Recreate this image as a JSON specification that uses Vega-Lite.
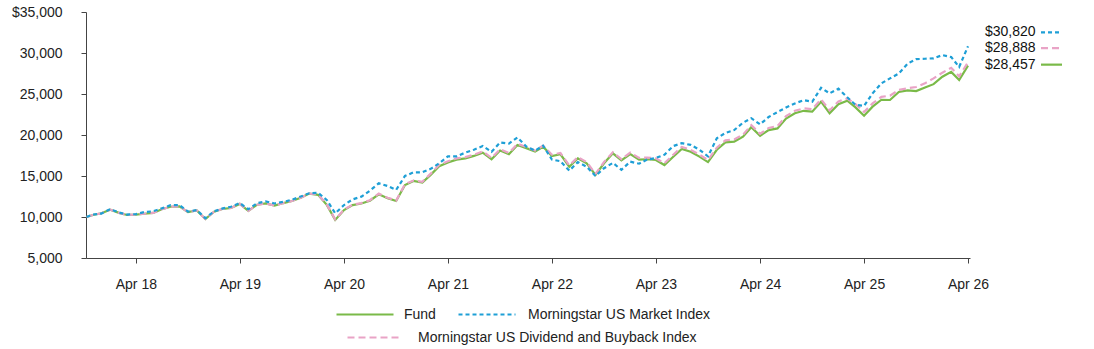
{
  "$schema": "https://vega.github.io/schema/vega-lite/v6.json",
  "width": 884,
  "height": 246,
  "autosize": {"type": "none"},
  "padding": {"left": 86, "top": 12, "right": 124, "bottom": 91},
  "background": "white",
  "config": {
    "font": "Liberation Sans",
    "view": {"stroke": null},
    "axis": {"grid": false, "domainColor": "#444", "tickColor": "#444", "labelColor": "#222", "labelFontSize": 14, "labelFont": "Liberation Sans", "title": null},
    "legend": {"labelLimit": 0, "labelFontSize": 14, "labelFont": "Liberation Sans", "labelColor": "#222", "title": null, "orient": "none", "symbolType": "stroke", "symbolStrokeWidth": 2.2, "clipHeight": 17, "direction": "horizontal"}
  },
  "datasets": {
    "growth": [
      {"date": "2017-10-10", "fund": 10000, "dividend": 10000, "market": 10000},
      {"date": "2017-11-01", "fund": 10250, "dividend": 10250, "market": 10300},
      {"date": "2017-12-01", "fund": 10450, "dividend": 10450, "market": 10420},
      {"date": "2018-01-01", "fund": 10900, "dividend": 10900, "market": 10950},
      {"date": "2018-02-01", "fund": 10500, "dividend": 10500, "market": 10550},
      {"date": "2018-03-01", "fund": 10250, "dividend": 10250, "market": 10300},
      {"date": "2018-04-01", "fund": 10300, "dividend": 10300, "market": 10350},
      {"date": "2018-05-01", "fund": 10400, "dividend": 10400, "market": 10600},
      {"date": "2018-06-01", "fund": 10500, "dividend": 10500, "market": 10700},
      {"date": "2018-07-01", "fund": 10950, "dividend": 10950, "market": 11050},
      {"date": "2018-08-01", "fund": 11250, "dividend": 11250, "market": 11450},
      {"date": "2018-09-01", "fund": 11300, "dividend": 11300, "market": 11450},
      {"date": "2018-10-01", "fund": 10600, "dividend": 10600, "market": 10650},
      {"date": "2018-11-01", "fund": 10800, "dividend": 10800, "market": 10850},
      {"date": "2018-12-01", "fund": 9750, "dividend": 9750, "market": 9850},
      {"date": "2019-01-01", "fund": 10650, "dividend": 10650, "market": 10700},
      {"date": "2019-02-01", "fund": 11000, "dividend": 11000, "market": 11050},
      {"date": "2019-03-01", "fund": 11100, "dividend": 11100, "market": 11250},
      {"date": "2019-04-01", "fund": 11600, "dividend": 11600, "market": 11700},
      {"date": "2019-05-01", "fund": 10750, "dividend": 10750, "market": 10950},
      {"date": "2019-06-01", "fund": 11500, "dividend": 11500, "market": 11700},
      {"date": "2019-07-01", "fund": 11650, "dividend": 11650, "market": 11900},
      {"date": "2019-08-01", "fund": 11400, "dividend": 11400, "market": 11650},
      {"date": "2019-09-01", "fund": 11700, "dividend": 11700, "market": 11850},
      {"date": "2019-10-01", "fund": 11950, "dividend": 11950, "market": 12100},
      {"date": "2019-11-01", "fund": 12350, "dividend": 12350, "market": 12500},
      {"date": "2019-12-01", "fund": 12850, "dividend": 12850, "market": 12900},
      {"date": "2020-01-01", "fund": 12700, "dividend": 12750, "market": 12950},
      {"date": "2020-02-01", "fund": 11450, "dividend": 11500, "market": 12050},
      {"date": "2020-03-01", "fund": 9650, "dividend": 9700, "market": 10450},
      {"date": "2020-04-01", "fund": 10850, "dividend": 10900, "market": 11460},
      {"date": "2020-05-01", "fund": 11450, "dividend": 11500, "market": 12150},
      {"date": "2020-06-01", "fund": 11650, "dividend": 11700, "market": 12480},
      {"date": "2020-07-01", "fund": 11990, "dividend": 12050, "market": 13210},
      {"date": "2020-08-01", "fund": 12770, "dividend": 12850, "market": 14110},
      {"date": "2020-09-01", "fund": 12300, "dividend": 12350, "market": 13780},
      {"date": "2020-10-01", "fund": 11950, "dividend": 12000, "market": 13300},
      {"date": "2020-11-01", "fund": 13900, "dividend": 14000, "market": 15000},
      {"date": "2020-12-01", "fund": 14390, "dividend": 14450, "market": 15450},
      {"date": "2021-01-01", "fund": 14200, "dividend": 14300, "market": 15450},
      {"date": "2021-02-01", "fund": 15200, "dividend": 15350, "market": 15900},
      {"date": "2021-03-01", "fund": 16200, "dividend": 16350, "market": 16550},
      {"date": "2021-04-01", "fund": 16650, "dividend": 16800, "market": 17400},
      {"date": "2021-05-01", "fund": 17000, "dividend": 17150, "market": 17400},
      {"date": "2021-06-01", "fund": 17150, "dividend": 17300, "market": 17850},
      {"date": "2021-07-01", "fund": 17450, "dividend": 17600, "market": 18200},
      {"date": "2021-08-01", "fund": 17850, "dividend": 18000, "market": 18650},
      {"date": "2021-09-01", "fund": 17050, "dividend": 17200, "market": 17950},
      {"date": "2021-10-01", "fund": 18100, "dividend": 18250, "market": 19100},
      {"date": "2021-11-01", "fund": 17650, "dividend": 17800, "market": 18950},
      {"date": "2021-12-01", "fund": 18780, "dividend": 18930, "market": 19700},
      {"date": "2022-01-01", "fund": 18400, "dividend": 18550, "market": 18600},
      {"date": "2022-02-01", "fund": 17970, "dividend": 18100, "market": 18100},
      {"date": "2022-03-01", "fund": 18570, "dividend": 18700, "market": 18700},
      {"date": "2022-04-01", "fund": 17440, "dividend": 17600, "market": 17000},
      {"date": "2022-05-01", "fund": 17650, "dividend": 17800, "market": 16800},
      {"date": "2022-06-01", "fund": 16130, "dividend": 16300, "market": 15650},
      {"date": "2022-07-01", "fund": 17160, "dividend": 17300, "market": 16700},
      {"date": "2022-08-01", "fund": 16550, "dividend": 16700, "market": 16130},
      {"date": "2022-09-01", "fund": 15120, "dividend": 15250, "market": 15000},
      {"date": "2022-10-01", "fund": 16550, "dividend": 16700, "market": 15950},
      {"date": "2022-11-01", "fund": 17770, "dividend": 17900, "market": 16600},
      {"date": "2022-12-01", "fund": 16900, "dividend": 17050, "market": 15750},
      {"date": "2023-01-01", "fund": 17680, "dividend": 17850, "market": 16750},
      {"date": "2023-02-01", "fund": 17000, "dividend": 17200, "market": 16500},
      {"date": "2023-03-01", "fund": 17040, "dividend": 17250, "market": 17000},
      {"date": "2023-04-01", "fund": 16950, "dividend": 17150, "market": 17200},
      {"date": "2023-05-01", "fund": 16340, "dividend": 16550, "market": 17600},
      {"date": "2023-06-01", "fund": 17350, "dividend": 17600, "market": 18650},
      {"date": "2023-07-01", "fund": 18300, "dividend": 18550, "market": 19000},
      {"date": "2023-08-01", "fund": 17950, "dividend": 18200, "market": 18800},
      {"date": "2023-09-01", "fund": 17360, "dividend": 17600, "market": 18200},
      {"date": "2023-10-01", "fund": 16700, "dividend": 16950, "market": 17400},
      {"date": "2023-11-01", "fund": 18200, "dividend": 18450, "market": 19600},
      {"date": "2023-12-01", "fund": 19100, "dividend": 19350, "market": 20250},
      {"date": "2024-01-01", "fund": 19200, "dividend": 19450, "market": 20600},
      {"date": "2024-02-01", "fund": 19800, "dividend": 20050, "market": 21500},
      {"date": "2024-03-01", "fund": 20950, "dividend": 21200, "market": 22050},
      {"date": "2024-04-01", "fund": 19900, "dividend": 20150, "market": 21300},
      {"date": "2024-05-01", "fund": 20600, "dividend": 20850, "market": 22200},
      {"date": "2024-06-01", "fund": 20800, "dividend": 21100, "market": 22800},
      {"date": "2024-07-01", "fund": 22000, "dividend": 22300, "market": 23350},
      {"date": "2024-08-01", "fund": 22650, "dividend": 22950, "market": 23850},
      {"date": "2024-09-01", "fund": 22950, "dividend": 23250, "market": 24250},
      {"date": "2024-10-01", "fund": 22850, "dividend": 23150, "market": 24050},
      {"date": "2024-11-01", "fund": 24060, "dividend": 24350, "market": 25750},
      {"date": "2024-12-01", "fund": 22650, "dividend": 23000, "market": 25080},
      {"date": "2025-01-01", "fund": 23760, "dividend": 24100, "market": 25650},
      {"date": "2025-02-01", "fund": 24190, "dividend": 24450, "market": 24600},
      {"date": "2025-03-01", "fund": 23400, "dividend": 23800, "market": 23700},
      {"date": "2025-04-01", "fund": 22350, "dividend": 22800, "market": 23550},
      {"date": "2025-05-01", "fund": 23460, "dividend": 23850, "market": 25080},
      {"date": "2025-06-01", "fund": 24300, "dividend": 24650, "market": 26300},
      {"date": "2025-07-01", "fund": 24270, "dividend": 24800, "market": 26900},
      {"date": "2025-08-01", "fund": 25250, "dividend": 25500, "market": 27500},
      {"date": "2025-09-01", "fund": 25450, "dividend": 25700, "market": 28700},
      {"date": "2025-10-01", "fund": 25350, "dividend": 25850, "market": 29250},
      {"date": "2025-11-01", "fund": 25800, "dividend": 26300, "market": 29300},
      {"date": "2025-12-01", "fund": 26200, "dividend": 26900, "market": 29350},
      {"date": "2026-01-01", "fund": 27100, "dividend": 27600, "market": 29750},
      {"date": "2026-02-01", "fund": 27700, "dividend": 28200, "market": 29500},
      {"date": "2026-03-01", "fund": 26700, "dividend": 27150, "market": 28300},
      {"date": "2026-04-01", "fund": 28457, "dividend": 28888, "market": 30820}
    ]
  },
  "data": {"name": "growth"},
  "transform": [{"fold": ["fund", "dividend", "market"], "as": ["series", "value"]}],
  "encoding": {
    "x": {
      "field": "date", "type": "temporal",
      "scale": {"domain": [{"year": 2017, "month": 10, "date": 8}, {"year": 2026, "month": 4, "date": 8}]},
      "axis": {
        "values": [
          {"year": 2018, "month": 4, "date": 1}, {"year": 2019, "month": 4, "date": 1},
          {"year": 2020, "month": 4, "date": 1}, {"year": 2021, "month": 4, "date": 1},
          {"year": 2022, "month": 4, "date": 1}, {"year": 2023, "month": 4, "date": 1},
          {"year": 2024, "month": 4, "date": 1}, {"year": 2025, "month": 4, "date": 1},
          {"year": 2026, "month": 4, "date": 1}
        ],
        "format": "%b %y", "tickSize": 5, "labelPadding": 14, "labelFlush": false, "labelOverlap": false
      }
    },
    "y": {
      "field": "value", "type": "quantitative",
      "scale": {"domain": [5000, 35000], "nice": false, "zero": false},
      "axis": {
        "values": [5000, 10000, 15000, 20000, 25000, 30000, 35000],
        "labelExpr": "datum.value == 35000 ? '$35,000' : format(datum.value, ',')",
        "tickSize": 5, "labelPadding": 19
      }
    }
  },
  "layer": [
    {
      "transform": [{"filter": "datum.series == 'fund'"}],
      "mark": {"type": "line", "strokeWidth": 2.2},
      "encoding": {
        "color": {
          "field": "series", "type": "nominal",
          "scale": {"domain": ["fund"], "range": ["#7aba48"]},
          "legend": {"legendX": 249, "legendY": 294, "symbolSize": 3249, "labelOffset": 9, "labelExpr": "'Fund'"}
        }
      }
    },
    {
      "transform": [{"filter": "datum.series == 'dividend'"}],
      "mark": {"type": "line", "strokeWidth": 2.2, "strokeDash": [7, 4]},
      "encoding": {
        "color": {
          "field": "series", "type": "nominal",
          "scale": {"domain": ["dividend"], "range": ["#e9a3c6"]},
          "legend": {"legendX": 260, "legendY": 317, "symbolSize": 2704, "symbolDash": [7, 4], "labelOffset": 17, "labelExpr": "'Morningstar US Dividend and Buyback Index'"}
        }
      }
    },
    {
      "transform": [{"filter": "datum.series == 'market'"}],
      "mark": {"type": "line", "strokeWidth": 2.2, "strokeDash": [4, 3]},
      "encoding": {
        "color": {
          "field": "series", "type": "nominal",
          "scale": {"domain": ["market"], "range": ["#1e9fd6"]},
          "legend": {"legendX": 371, "legendY": 294, "symbolSize": 3249, "symbolDash": [4, 3], "labelOffset": 11, "labelExpr": "'Morningstar US Market Index'"}
        }
      }
    },
    {
      "transform": [{"filter": "datum.series == 'market' && time(datum.date) > time(datetime(2026, 2, 15))"}],
      "mark": {"type": "text", "align": "left", "baseline": "middle", "dx": 17, "dy": -14, "fontSize": 14, "font": "Liberation Sans", "color": "#111"},
      "encoding": {"text": {"field": "value", "type": "quantitative", "format": "$,.0f"}}
    },
    {
      "transform": [{"filter": "datum.series == 'dividend' && time(datum.date) > time(datetime(2026, 2, 15))"}],
      "mark": {"type": "text", "align": "left", "baseline": "middle", "dx": 17, "dy": -14, "fontSize": 14, "font": "Liberation Sans", "color": "#111"},
      "encoding": {"text": {"field": "value", "type": "quantitative", "format": "$,.0f"}}
    },
    {
      "transform": [{"filter": "datum.series == 'fund' && time(datum.date) > time(datetime(2026, 2, 15))"}],
      "mark": {"type": "text", "align": "left", "baseline": "middle", "dx": 17, "dy": -1, "fontSize": 14, "font": "Liberation Sans", "color": "#111"},
      "encoding": {"text": {"field": "value", "type": "quantitative", "format": "$,.0f"}}
    },
    {
      "transform": [{"filter": "datum.series == 'market' && time(datum.date) > time(datetime(2026, 2, 15))"}],
      "mark": {"type": "rule", "xOffset": 73, "x2Offset": 94, "yOffset": -14, "strokeWidth": 2.2, "strokeDash": [4, 3], "color": "#1e9fd6"},
      "encoding": {"x2": {"field": "date"}}
    },
    {
      "transform": [{"filter": "datum.series == 'dividend' && time(datum.date) > time(datetime(2026, 2, 15))"}],
      "mark": {"type": "rule", "xOffset": 73, "x2Offset": 94, "yOffset": -14, "strokeWidth": 2.2, "strokeDash": [7, 4], "color": "#e9a3c6"},
      "encoding": {"x2": {"field": "date"}}
    },
    {
      "transform": [{"filter": "datum.series == 'fund' && time(datum.date) > time(datetime(2026, 2, 15))"}],
      "mark": {"type": "rule", "xOffset": 73, "x2Offset": 94, "yOffset": -1, "strokeWidth": 2.2, "color": "#7aba48"},
      "encoding": {"x2": {"field": "date"}}
    }
  ],
  "resolve": {"scale": {"color": "independent"}}
}
